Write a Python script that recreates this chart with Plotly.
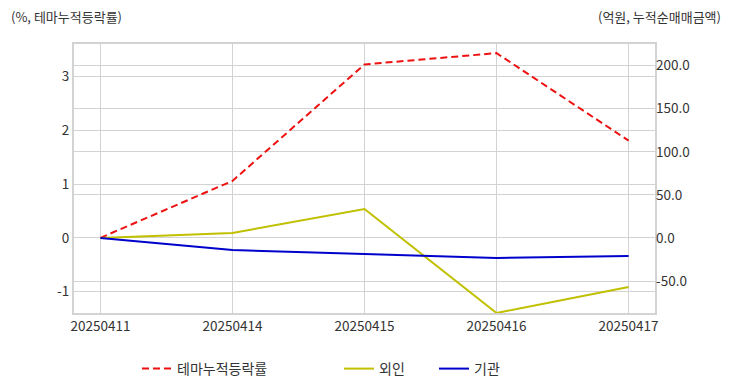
import plotly.graph_objects as go

dates = ["20250411", "20250414", "20250415", "20250416", "20250417"]
theme_rate = [0.0, 1.06, 3.23, 3.44, 1.81]
foreign = [0.0, 5.8, 33.6, -87.0, -56.8]
institution = [0.0, -13.9, -18.6, -23.2, -20.9]

left_ticks = [-1, 0, 1, 2, 3]
left_tick_labels = ["-1", "0", "1", "2", "3"]
right_ticks = [-50, 0, 50, 100, 150, 200]
right_tick_labels = ["-50.0", "0.0", "50.0", "100.0", "150.0", "200.0"]

FONT = "Noto Sans CJK KR"
GRID = "#d3d3d3"
TXT = "#333333"
TICK = 13.5

W, H = 732, 392
L, R, T, B = 74, 77, 44, 79
pw = W - L - R
ph = H - T - B


def px_x(x):
    return (x - L) / pw


def px_y(y):
    return (H - B - y) / ph


fig = go.Figure()
fig.add_trace(go.Scatter(x=dates, y=theme_rate, name="테마누적등락률", mode="lines",
                         line=dict(color="#ee1111", width=2, dash="7px,4px"), yaxis="y",
                         legend="legend"))
fig.add_trace(go.Scatter(x=dates, y=foreign, name="외인", mode="lines",
                         line=dict(color="#c0c000", width=2), yaxis="y2",
                         legend="legend2"))
fig.add_trace(go.Scatter(x=dates, y=institution, name="기관", mode="lines",
                         line=dict(color="#0000cc", width=2), yaxis="y2",
                         legend="legend3"))

legend_common = dict(orientation="h", yanchor="middle", y=px_y(369),
                     font=dict(family=FONT, size=14, color=TXT),
                     bgcolor="rgba(0,0,0,0)", borderwidth=0)

fig.update_layout(
    width=W, height=H,
    margin=dict(l=L, r=R, t=T, b=B, autoexpand=False),
    paper_bgcolor="white", plot_bgcolor="white",
    font=dict(family=FONT, size=12, color=TXT),
    showlegend=True,
    legend=dict(x=px_x(137), xanchor="left", **legend_common),
    legend2=dict(x=px_x(339), xanchor="left", **legend_common),
    legend3=dict(x=px_x(434), xanchor="left", **legend_common),
    xaxis=dict(type="category", range=[-0.2, 4.2], showgrid=True, gridcolor=GRID,
               showline=True, linecolor=GRID, linewidth=2, mirror=True, automargin=False,
               ticks="", tickfont=dict(size=TICK, color=TXT)),
    yaxis=dict(range=[-1.40, 3.61], tickvals=left_ticks, ticktext=left_tick_labels,
               showgrid=True, gridcolor=GRID,
               zeroline=False, showline=True, linecolor=GRID, linewidth=2, mirror=True,
               automargin=False, ticks="", tickfont=dict(size=TICK, color=TXT)),
    yaxis2=dict(range=[-87, 225], tickvals=right_ticks, ticktext=right_tick_labels,
                overlaying="y", side="right",
                showgrid=True, gridcolor=GRID, zeroline=False, showline=False,
                automargin=False, ticks="", tickfont=dict(size=TICK, color=TXT)),
    annotations=[
        dict(text="(%, 테마누적등락률)", x=px_x(9), y=px_y(16), xref="paper", yref="paper",
             xanchor="left", yanchor="middle", showarrow=False,
             font=dict(size=13, color=TXT)),
        dict(text="(억원, 누적순매매금액)", x=px_x(723), y=px_y(16), xref="paper", yref="paper",
             xanchor="right", yanchor="middle", showarrow=False,
             font=dict(size=13, color=TXT)),
    ],
)

fig.write_html("out.html", config={"displayModeBar": False},
               post_script="document.body.style.margin='0';document.body.style.overflow='hidden';")
